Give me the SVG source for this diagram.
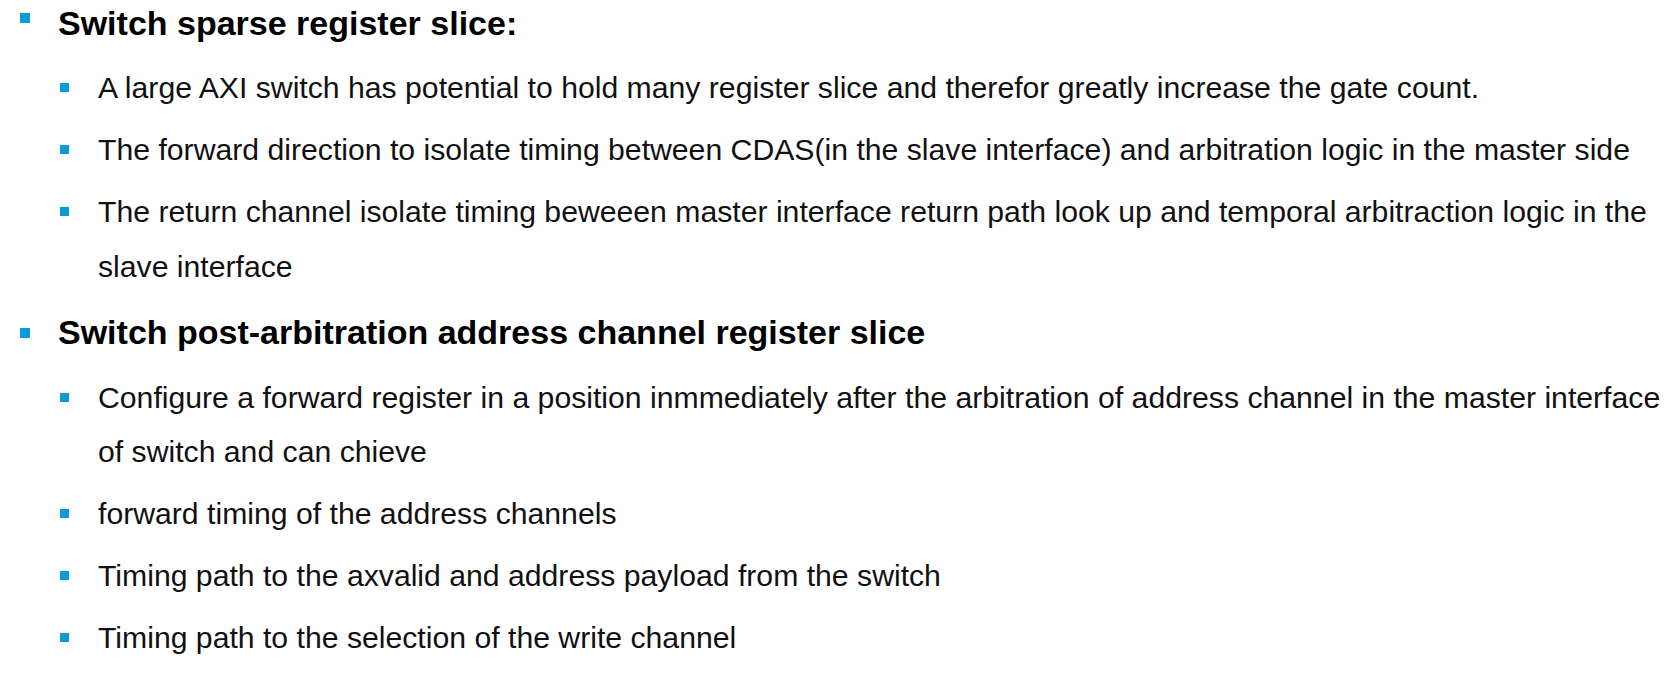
<svg xmlns="http://www.w3.org/2000/svg" width="1674" height="680" viewBox="0 0 1674 680">
<style>
.b{fill:#0a9ad8}
.h{font-family:"Liberation Sans",Arial,sans-serif;font-weight:bold;font-size:34px;fill:#000}
.t{font-family:"Liberation Sans",Arial,sans-serif;font-size:30.2px;fill:#111}
</style>
<rect width="1674" height="680" fill="#fff"/>
<rect class="b" x="20" y="13" width="10" height="10"/>
<text class="h" x="58" y="35">Switch sparse register slice:</text>
<rect class="b" x="60" y="83" width="9" height="9"/>
<text class="t" x="98" y="98">A large AXI switch has potential to hold many register slice and therefor greatly increase the gate count.</text>
<rect class="b" x="60" y="145" width="9" height="9"/>
<text class="t" x="98" y="160">The forward direction to isolate timing between CDAS(in the slave interface) and arbitration logic in the master side</text>
<rect class="b" x="60" y="207" width="9" height="9"/>
<text class="t" x="98" y="222">The return channel isolate timing beweeen master interface return path look up and temporal arbitraction logic in the</text>
<text class="t" x="98" y="277">slave interface</text>
<rect class="b" x="20" y="328" width="10" height="10"/>
<text class="h" x="58" y="344">Switch post-arbitration address channel register slice</text>
<rect class="b" x="60" y="393" width="9" height="9"/>
<text class="t" x="98" y="408">Configure a forward register in a position inmmediately after the arbitration of address channel in the master interface</text>
<text class="t" x="98" y="462">of switch and can chieve</text>
<rect class="b" x="60" y="509" width="9" height="9"/>
<text class="t" x="98" y="524">forward timing of the address channels</text>
<rect class="b" x="60" y="571" width="9" height="9"/>
<text class="t" x="98" y="586">Timing path to the axvalid and address payload from the switch</text>
<rect class="b" x="60" y="633" width="9" height="9"/>
<text class="t" x="98" y="648">Timing path to the selection of the write channel</text>
</svg>
